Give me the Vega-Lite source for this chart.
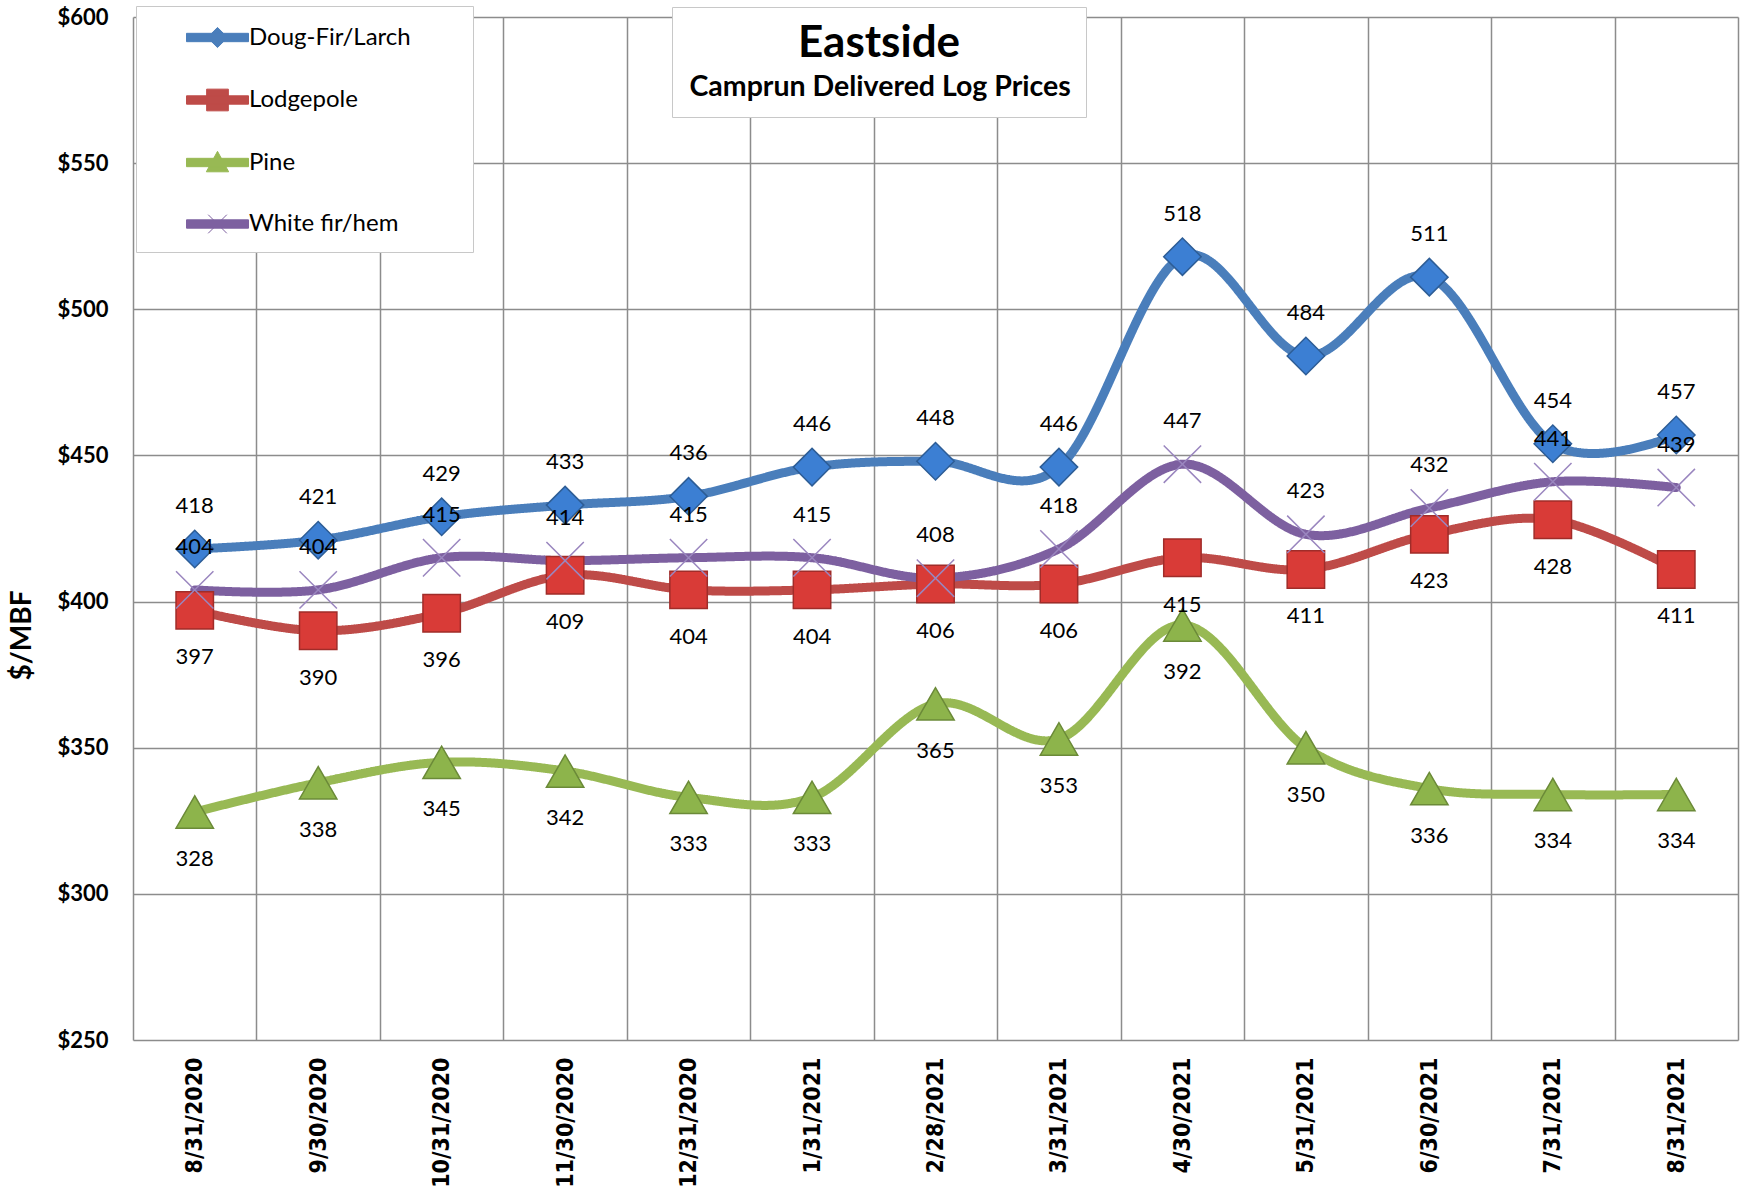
{
  "$schema": "https://vega.github.io/schema/vega-lite/v6.json",
  "autosize": {"type": "none"},
  "width": 1605,
  "height": 1023,
  "padding": {"left": 133, "top": 17, "right": 6, "bottom": 151},
  "background": "white",
  "config": {"view": {"stroke": null}, "font": "Lato"},
  "data": {"values": [
    {"date": "8/31/2020", "series": "Doug-Fir/Larch", "price": 418},
    {"date": "9/30/2020", "series": "Doug-Fir/Larch", "price": 421},
    {"date": "10/31/2020", "series": "Doug-Fir/Larch", "price": 429},
    {"date": "11/30/2020", "series": "Doug-Fir/Larch", "price": 433},
    {"date": "12/31/2020", "series": "Doug-Fir/Larch", "price": 436},
    {"date": "1/31/2021", "series": "Doug-Fir/Larch", "price": 446},
    {"date": "2/28/2021", "series": "Doug-Fir/Larch", "price": 448},
    {"date": "3/31/2021", "series": "Doug-Fir/Larch", "price": 446},
    {"date": "4/30/2021", "series": "Doug-Fir/Larch", "price": 518},
    {"date": "5/31/2021", "series": "Doug-Fir/Larch", "price": 484},
    {"date": "6/30/2021", "series": "Doug-Fir/Larch", "price": 511},
    {"date": "7/31/2021", "series": "Doug-Fir/Larch", "price": 454},
    {"date": "8/31/2021", "series": "Doug-Fir/Larch", "price": 457},
    {"date": "8/31/2020", "series": "Lodgepole", "price": 397},
    {"date": "9/30/2020", "series": "Lodgepole", "price": 390},
    {"date": "10/31/2020", "series": "Lodgepole", "price": 396},
    {"date": "11/30/2020", "series": "Lodgepole", "price": 409},
    {"date": "12/31/2020", "series": "Lodgepole", "price": 404},
    {"date": "1/31/2021", "series": "Lodgepole", "price": 404},
    {"date": "2/28/2021", "series": "Lodgepole", "price": 406},
    {"date": "3/31/2021", "series": "Lodgepole", "price": 406},
    {"date": "4/30/2021", "series": "Lodgepole", "price": 415},
    {"date": "5/31/2021", "series": "Lodgepole", "price": 411},
    {"date": "6/30/2021", "series": "Lodgepole", "price": 423},
    {"date": "7/31/2021", "series": "Lodgepole", "price": 428},
    {"date": "8/31/2021", "series": "Lodgepole", "price": 411},
    {"date": "8/31/2020", "series": "Pine", "price": 328},
    {"date": "9/30/2020", "series": "Pine", "price": 338},
    {"date": "10/31/2020", "series": "Pine", "price": 345},
    {"date": "11/30/2020", "series": "Pine", "price": 342},
    {"date": "12/31/2020", "series": "Pine", "price": 333},
    {"date": "1/31/2021", "series": "Pine", "price": 333},
    {"date": "2/28/2021", "series": "Pine", "price": 365},
    {"date": "3/31/2021", "series": "Pine", "price": 353},
    {"date": "4/30/2021", "series": "Pine", "price": 392},
    {"date": "5/31/2021", "series": "Pine", "price": 350},
    {"date": "6/30/2021", "series": "Pine", "price": 336},
    {"date": "7/31/2021", "series": "Pine", "price": 334},
    {"date": "8/31/2021", "series": "Pine", "price": 334},
    {"date": "8/31/2020", "series": "White fir/hem", "price": 404},
    {"date": "9/30/2020", "series": "White fir/hem", "price": 404},
    {"date": "10/31/2020", "series": "White fir/hem", "price": 415},
    {"date": "11/30/2020", "series": "White fir/hem", "price": 414},
    {"date": "12/31/2020", "series": "White fir/hem", "price": 415},
    {"date": "1/31/2021", "series": "White fir/hem", "price": 415},
    {"date": "2/28/2021", "series": "White fir/hem", "price": 408},
    {"date": "3/31/2021", "series": "White fir/hem", "price": 418},
    {"date": "4/30/2021", "series": "White fir/hem", "price": 447},
    {"date": "5/31/2021", "series": "White fir/hem", "price": 423},
    {"date": "6/30/2021", "series": "White fir/hem", "price": 432},
    {"date": "7/31/2021", "series": "White fir/hem", "price": 441},
    {"date": "8/31/2021", "series": "White fir/hem", "price": 439}
  ]},
  "encoding": {
    "x": {
      "field": "date", "type": "ordinal", "sort": null,
      "scale": {"type": "band", "paddingInner": 0, "paddingOuter": 0},
      "axis": {
        "title": null, "labelAngle": 270, "labelFont": "DejaVu Sans Condensed, DejaVu Sans", "labelFontWeight": "bold",
        "labelFontSize": 23, "labelColor": "black", "labelPadding": 17,
        "ticks": false, "domain": false, "grid": true, "tickBand": "extent",
        "gridColor": "#8c8c8c", "gridWidth": 1.5, "gridOpacity": 1
      }
    },
    "y": {
      "field": "price", "type": "quantitative",
      "scale": {"domain": [250, 600], "nice": false, "zero": false},
      "axis": {
        "title": "$/MBF", "values": [250, 300, 350, 400, 450, 500, 550, 600],
        "labelExpr": "'$' + datum.value", "labelFont": "Lato", "labelFontWeight": "bold",
        "labelFontSize": 22, "labelColor": "black", "labelPadding": 25,
        "ticks": false, "domain": false, "grid": true,
        "gridColor": "#8c8c8c", "gridWidth": 1.5, "gridOpacity": 1,
        "titleFont": "Lato", "titleFontSize": 28, "titleFontWeight": "bold", "titleColor": "black",
        "titleAngle": 270, "titleX": -111, "titleY": 618, "titleAlign": "center", "titleBaseline": "middle"
      }
    }
  },
  "layer": [
    {
      "mark": {"type": "line", "interpolate": "cardinal", "strokeWidth": 9, "strokeCap": "round", "strokeJoin": "round"},
      "encoding": {
        "color": {
          "field": "series", "type": "nominal",
          "scale": {"domain": ["Doug-Fir/Larch", "Lodgepole", "Pine", "White fir/hem"], "range": ["#4A7EBB", "#BE4B48", "#98B954", "#7D60A0"]},
          "legend": {
            "title": null, "orient": "none", "legendX": 3, "legendY": -11,
            "padding": 15.5, "symbolSize": 961, "symbolOffset": 50, "labelOffset": 15.5,
            "rowPadding": 33.5, "labelFont": "Lato", "labelFontSize": 24, "labelColor": "black",
            "labelLimit": 500,
            "fillColor": "white", "strokeColor": "#c8c8c8",
            "encoding": {
              "symbols": {
                "shape": {"value": {"expr": "datum.value === 'Doug-Fir/Larch' ? 'M-2,-0.27H2V0.27H-2Z M0,-0.65L0.65,0L0,0.65L-0.65,0Z M15.3,0' : datum.value === 'Lodgepole' ? 'M-2,-0.27H2V0.27H-2Z M-0.7,-0.7H0.7V0.7H-0.7Z M15.3,0' : datum.value === 'Pine' ? 'M-2,-0.27H2V0.27H-2Z M0,-0.72L0.72,0.6L-0.72,0.6Z M15.3,0' : 'M-2,-0.27H2V0.27H-2Z M-0.6,-0.6L0.6,0.6M-0.6,0.6L0.6,-0.6 M15.3,0'"}},
                "fill": {"value": {"expr": "scale('color', datum.value)"}},
                "stroke": {"value": {"expr": "scale('color', datum.value)"}},
                "strokeWidth": {"value": 1},
                "opacity": {"value": 1},
                "fillOpacity": {"value": 1}
              }
            }
          }
        },
        "strokeDash": {
          "datum": "Camprun Delivered Log Prices", "type": "nominal",
          "scale": {"range": [[1, 0]]},
          "legend": {
            "title": "Eastside", "orient": "none", "legendX": 539, "legendY": -10,
            "padding": 15, "titleFont": "Lato", "titleFontSize": 44, "titleFontWeight": "bold",
            "titleColor": "black", "titleAnchor": "middle", "titlePadding": 6.5,
            "labelFont": "Lato", "labelFontSize": 28.5, "labelFontWeight": "bold", "labelColor": "black",
            "labelOffset": -26, "labelLimit": 600, "symbolSize": 0, "symbolStrokeWidth": 0, "symbolOpacity": 0,
            "fillColor": "white", "strokeColor": "#c8c8c8"
          }
        }
      }
    },
    {
      "transform": [{"filter": "datum.series === 'Doug-Fir/Larch'"}],
      "mark": {"type": "point", "shape": "diamond", "filled": true, "size": 1400, "fill": "#3C7FD3", "stroke": "#2D5D96", "strokeWidth": 1.5, "opacity": 1}
    },
    {
      "transform": [{"filter": "datum.series === 'Lodgepole'"}],
      "mark": {"type": "point", "shape": "square", "filled": true, "size": 1400, "fill": "#D93B37", "stroke": "#A02C29", "strokeWidth": 1.5, "opacity": 1}
    },
    {
      "transform": [{"filter": "datum.series === 'Pine'"}],
      "mark": {"type": "point", "shape": "triangle-up", "filled": true, "size": 1400, "fill": "#8DB44B", "stroke": "#6B8A38", "strokeWidth": 1.5, "opacity": 1}
    },
    {
      "transform": [{"filter": "datum.series === 'White fir/hem'"}],
      "mark": {"type": "point", "shape": "M-1,-1L1,1M-1,1L1,-1", "filled": false, "size": 1400, "stroke": "#9A86BF", "strokeWidth": 1.5, "opacity": 1}
    },
    {
      "transform": [{"filter": "datum.series === 'Doug-Fir/Larch' || datum.series === 'White fir/hem'"}],
      "mark": {"type": "text", "dy": -43, "fontSize": 22, "font": "Lato", "color": "black", "baseline": "middle"},
      "encoding": {"text": {"field": "price", "type": "quantitative"}}
    },
    {
      "transform": [{"filter": "datum.series === 'Lodgepole' || datum.series === 'Pine'"}],
      "mark": {"type": "text", "dy": 47, "fontSize": 22, "font": "Lato", "color": "black", "baseline": "middle"},
      "encoding": {"text": {"field": "price", "type": "quantitative"}}
    }
  ]
}
